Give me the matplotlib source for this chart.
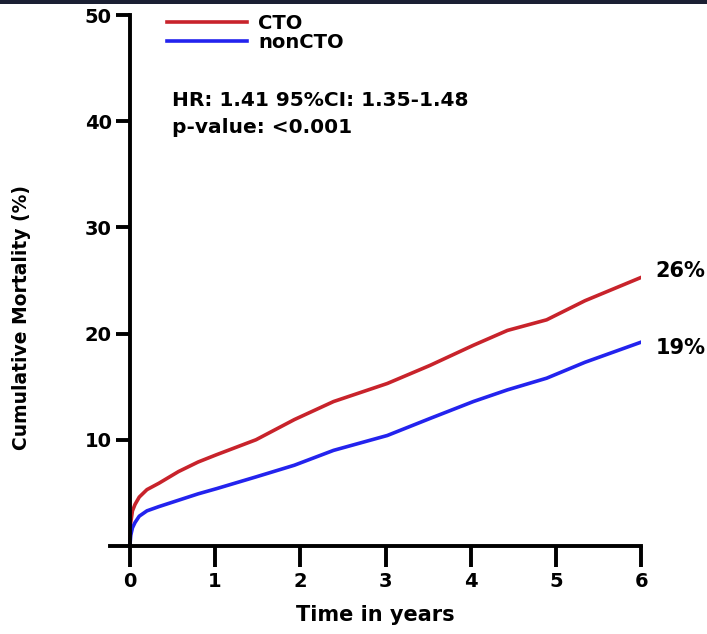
import matplotlib.pyplot as plt
from matplotlib.patches import Rectangle

plt.rcParams['font.family'] = ['DejaVu Sans']
plt.rcParams['font.weight'] = 'bold'

# time in years and cumulative mortality (%)
time_cto = [0, 0.01, 0.03, 0.06, 0.11, 0.2, 0.34, 0.57, 0.8, 1.02, 1.48, 1.93, 2.39, 3.02, 3.52, 4.03, 4.43, 4.89, 5.34, 6.0]
mort_cto = [0, 2.2, 3.3, 3.9, 4.6, 5.3, 5.9, 7.0, 7.9, 8.6, 10.0, 11.9, 13.6, 15.3, 17.0, 18.9, 20.3, 21.3, 23.1, 25.3]

time_non = [0, 0.01, 0.03, 0.06, 0.11, 0.2, 0.34, 0.57, 0.8, 1.02, 1.48, 1.93, 2.39, 3.02, 3.52, 4.03, 4.43, 4.89, 5.34, 6.0]
mort_non = [0, 1.0, 1.7, 2.2, 2.8, 3.3, 3.7, 4.3, 4.9, 5.4, 6.5, 7.6, 9.0, 10.4, 12.0, 13.6, 14.7, 15.8, 17.3, 19.2]

end_labels = ["26%", "19%"]
x_ticks = [0, 1, 2, 3, 4, 5, 6]
y_ticks = [10, 20, 30, 40, 50]

red = '#c8232b'
blue = '#2323ee'

fig = plt.figure(figsize=(7.07, 6.34), dpi=100)
ax = fig.add_axes([0.156, 0.139, 0.751, 0.837])

ax.plot(time_cto, mort_cto, color=red, lw=2.6, label='CTO')
ax.plot(time_non, mort_non, color=blue, lw=2.6, label='nonCTO')

ax.set_xlim(-0.23, 6)
ax.set_ylim(0, 50)
ax.spines['left'].set_position(('data', 0))
ax.spines['top'].set_visible(False)
ax.spines['right'].set_visible(False)
for s in ['left', 'bottom']:
    ax.spines[s].set_linewidth(2.8)

ax.set_xticks(x_ticks)
ax.set_yticks(y_ticks)
ax.tick_params(axis='x', direction='out', length=15, width=2.8, labelsize=14, pad=4)
ax.tick_params(axis='y', direction='out', length=10, width=2.8, labelsize=14, pad=3)
for lbl in ax.get_xticklabels() + ax.get_yticklabels():
    lbl.set_fontweight('bold')

ax.set_xlabel('Time in years', fontsize=15, fontweight='bold', labelpad=10)
fig.text(0.03, 0.50, 'Cumulative Mortality (%)', rotation=90, fontsize=13.5,
         fontweight='bold', ha='center', va='center')

leg = ax.legend(loc='upper left', bbox_to_anchor=(0.107, 1.003), frameon=False,
                fontsize=14, handlelength=4.1, handletextpad=0.6, labelspacing=0.0,
                borderpad=0, borderaxespad=0)
for t in leg.get_texts():
    t.set_fontweight('bold')

ax.text(0.49, 42.0, 'HR: 1.41 95%CI: 1.35-1.48', fontsize=14.5, fontweight='bold', va='center')
ax.text(0.49, 39.4, 'p-value: <0.001', fontsize=14.5, fontweight='bold', va='center')

ax.text(6.17, mort_cto[-1] + 0.6, end_labels[0], fontsize=15, fontweight='bold', va='center')
ax.text(6.17, mort_non[-1] - 0.6, end_labels[1], fontsize=15, fontweight='bold', va='center')

# dark border band at the very top of the image
fig.add_artist(Rectangle((0, 0.993), 1, 0.007, transform=fig.transFigure,
                         color='#1b2033', lw=0))

fig.savefig('out.png', dpi=100)
